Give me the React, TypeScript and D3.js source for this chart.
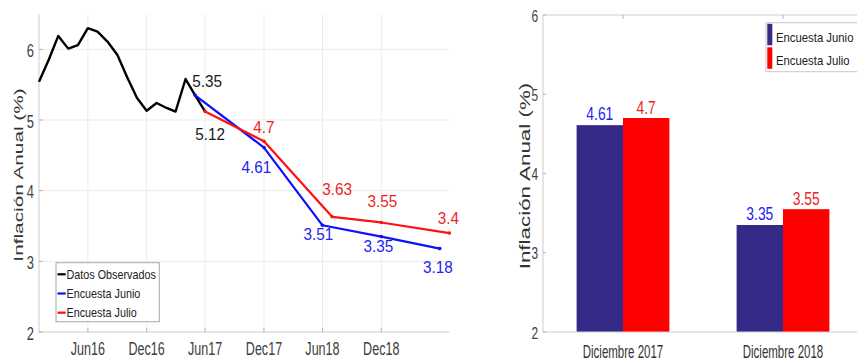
import React from 'react';
import * as d3 from 'd3';

// ---------- DATA ----------
const observedMonths = ['2016-01','2016-02','2016-03','2016-04','2016-05','2016-06','2016-07','2016-08','2016-09','2016-10','2016-11','2016-12','2017-01','2017-02','2017-03','2017-04','2017-05','2017-06'];
const observedValues = [5.54,5.86,6.19,6.01,6.06,6.30,6.25,6.11,5.92,5.61,5.31,5.13,5.24,5.17,5.12,5.58,5.35,5.12];
const juneMonths = ['2017-05','2017-12','2018-06','2018-12','2019-06'];
const juneValues = [5.35,4.61,3.51,3.35,3.18];
const julyMonths = ['2017-06','2017-12','2018-07','2018-12','2019-07'];
const julyValues = [5.12,4.7,3.63,3.55,3.4];
const xTickMonths = ['2016-06','2016-12','2017-06','2017-12','2018-06','2018-12'];
const xTickLabels = ['Jun16','Dec16','Jun17','Dec17','Jun18','Dec18'];
const yTicksLeft = [2,3,4,5,6];
const yTicksRight = [2,3,4,5,6];
const legendLeft = ['Datos Observados','Encuesta Junio','Encuesta Julio'];
const barCategories = ['Diciembre 2017','Diciembre 2018'];
const barJune = [4.61,3.35];
const barJuly = [4.7,3.55];
const legendRight = ['Encuesta Junio','Encuesta Julio'];
const yTitle = 'Inflación Anual (%)';

// ---------- STYLE (label offsets relative to points) ----------
const juneLabelOffsets: [number, number, string, string][] = [
  [-3, -8.6, 'start', '#1a1a1a'],
  [-7.5, 25.7, 'middle', '#2323ee'],
  [-4, 15, 'middle', '#2323ee'],
  [-3, 15, 'middle', '#2323ee'],
  [-2, 24, 'middle', '#2323ee'],
];
const julyLabelOffsets: [number, number, string, string][] = [
  [5, 28, 'middle', '#1a1a1a'],
  [0, -8.5, 'middle', '#ee1f1f'],
  [5, -21.6, 'middle', '#ee1f1f'],
  [1, -15, 'middle', '#ee1f1f'],
  [-1, -9, 'middle', '#ee1f1f'],
];

const FONT = "'Liberation Sans', Arial, Helvetica, sans-serif";
const parseMonth = d3.timeParse('%Y-%m');

function T({ x, y, sx = 1, size, anchor = 'middle', fill = '#404040', children }: any) {
  return (
    <text
      transform={`translate(${x},${y}) scale(${sx},1)`}
      fontSize={size}
      textAnchor={anchor}
      fill={fill}
      fontFamily={FONT}
    >
      {children}
    </text>
  );
}

export default function App() {
  // ---- left chart scales ----
  const xL = d3.scaleTime()
    .domain([new Date(2016, 0, 1), new Date(2019, 6, 1)])
    .range([39, 449.4]);
  const yL = d3.scaleLinear().domain([2, 6.5]).range([332, 14]);
  const line = d3.line<[Date, number]>().x(d => xL(d[0])).y(d => yL(d[1]));
  const obs = observedMonths.map((m, i) => [parseMonth(m)!, observedValues[i]] as [Date, number]);
  const jun = juneMonths.map((m, i) => [parseMonth(m)!, juneValues[i]] as [Date, number]);
  const jul = julyMonths.map((m, i) => [parseMonth(m)!, julyValues[i]] as [Date, number]);
  const xTicks = xTickMonths.map(m => parseMonth(m)!);

  // ---- right chart scales ----
  const xR = d3.scaleLinear().domain([0.5, 2.5]).range([543, 863]);
  const yR = d3.scaleLinear().domain([2, 6]).range([332, 15]);
  const bw = 0.29;

  const gridColor = '#ebebeb';
  const axisColor = '#cdcdcd';

  return (
    <svg width={857} height={364} style={{ position: 'absolute', left: 0, top: 0, background: '#fff' }}>
      <rect x={0} y={0} width={857} height={364} fill="#fff" />
      {/* ============ LEFT CHART ============ */}
      {/* grid */}
      {yTicksLeft.filter(t => t > 2).map(t => (
        <line key={'gy' + t} x1={xL.range()[0]} x2={xL.range()[1]} y1={yL(t)} y2={yL(t)} stroke={gridColor} strokeWidth={1} />
      ))}
      {xTicks.map((d, i) => (
        <line key={'gx' + i} x1={xL(d)} x2={xL(d)} y1={yL(6.5)} y2={yL(2)} stroke={gridColor} strokeWidth={1} />
      ))}
      {/* axes */}
      <line x1={xL.range()[0]} x2={xL.range()[0]} y1={yL(6.5)} y2={yL(2)} stroke={axisColor} />
      <line x1={xL.range()[0]} x2={xL.range()[1]} y1={yL(2)} y2={yL(2)} stroke={axisColor} />
      {xTicks.map((d, i) => (
        <line key={'tx' + i} x1={xL(d)} x2={xL(d)} y1={yL(2)} y2={yL(2) - 4} stroke="#b5b5b5" />
      ))}
      {yTicksLeft.map(t => (
        <line key={'ty' + t} x1={xL.range()[0]} x2={xL.range()[0] + 4} y1={yL(t)} y2={yL(t)} stroke="#b5b5b5" />
      ))}
      {/* tick labels */}
      {yTicksLeft.map(t => (
        <T key={'yl' + t} x={34} y={yL(t) + 7.5} sx={0.72} size={18} anchor="end">{t}</T>
      ))}
      {xTicks.map((d, i) => (
        <T key={'xl' + i} x={xL(d)} y={355} sx={0.68} size={18.5}>{xTickLabels[i]}</T>
      ))}
      {/* y title */}
      <text transform={`translate(23,175) scale(0.6,1) rotate(-90)`} fontSize={20.8} textAnchor="middle" fill="#333" fontFamily={FONT}>{yTitle}</text>

      {/* lines */}
      <path d={line(obs)!} fill="none" stroke="#000" strokeWidth={2.4} strokeLinejoin="round" />
      <path d={line(jun)!} fill="none" stroke="#1010ff" strokeWidth={2.2} strokeLinejoin="round" />
      <path d={line(jul)!} fill="none" stroke="#ff1010" strokeWidth={2.2} strokeLinejoin="round" />
      {jun.map((d, i) => <circle key={'jm' + i} cx={xL(d[0])} cy={yL(d[1])} r={1.8} fill="#1010ff" />)}
      {jul.map((d, i) => <circle key={'lm' + i} cx={xL(d[0])} cy={yL(d[1])} r={1.8} fill="#ff1010" />)}

      {/* data labels */}
      {jun.map((d, i) => {
        const o = juneLabelOffsets[i];
        return <T key={'jl' + i} x={xL(d[0]) + o[0]} y={yL(d[1]) + o[1]} sx={0.9} size={17} anchor={o[2]} fill={o[3]}>{String(juneValues[i])}</T>;
      })}
      {jul.map((d, i) => {
        const o = julyLabelOffsets[i];
        return <T key={'ll' + i} x={xL(d[0]) + o[0]} y={yL(d[1]) + o[1]} sx={0.9} size={17} anchor={o[2]} fill={o[3]}>{String(julyValues[i])}</T>;
      })}

      {/* legend */}
      <rect x={56} y={262.7} width={103.3} height={59} fill="#fff" stroke="#a8a8a8" strokeWidth={1} />
      {legendLeft.map((name, i) => {
        const cy = 274.3 + i * 19.2;
        const col = ['#000', '#1010ff', '#ff1010'][i];
        return (
          <g key={'lg' + i}>
            <line x1={57.5} x2={65.7} y1={cy} y2={cy} stroke={col} strokeWidth={2.2} />
            <T x={66.5} y={cy + 4.6} sx={0.9} size={12} anchor="start" fill="#222">{name}</T>
          </g>
        );
      })}

      {/* ============ RIGHT CHART ============ */}
      {/* bars */}
      {barCategories.map((c, i) => (
        <g key={'bar' + i}>
          <rect x={xR(i + 1 - bw)} y={yR(barJune[i])} width={xR(i + 1) - xR(i + 1 - bw)} height={yR(2) - yR(barJune[i])} fill="#352a87" />
          <rect x={xR(i + 1)} y={yR(barJuly[i])} width={xR(i + 1 + bw) - xR(i + 1)} height={yR(2) - yR(barJuly[i])} fill="#ff0000" />
          <T x={xR(i + 1 - bw / 2)} y={yR(barJune[i]) - 5} sx={0.73} size={19} fill="#2323ee">{String(barJune[i])}</T>
          <T x={xR(i + 1 + bw / 2)} y={yR(barJuly[i]) - 4} sx={0.73} size={19} fill="#ee1f1f">{String(barJuly[i])}</T>
          <T x={xR(i + 1)} y={358} sx={0.65} size={17.7} fill="#333">{c}</T>
        </g>
      ))}
      {/* axes box */}
      <line x1={xR(0.5)} x2={xR(0.5)} y1={yR(6)} y2={yR(2)} stroke={axisColor} />
      <line x1={xR(0.5)} x2={xR(2.5)} y1={yR(6)} y2={yR(6)} stroke={axisColor} />
      <line x1={xR(0.5)} x2={xR(2.5)} y1={yR(2)} y2={yR(2)} stroke={axisColor} />
      <line x1={xR(2.5)} x2={xR(2.5)} y1={yR(6)} y2={yR(2)} stroke={axisColor} />
      {barCategories.map((c, i) => (
        <line key={'rt' + i} x1={xR(i + 1)} x2={xR(i + 1)} y1={yR(6)} y2={yR(6) + 4} stroke="#b5b5b5" />
      ))}
      {yTicksRight.map(t => (
        <g key={'ry' + t}>
          <line x1={xR(0.5)} x2={xR(0.5) + 3} y1={yR(t)} y2={yR(t)} stroke="#b5b5b5" />
          <T x={538} y={yR(t) + 6.5} sx={0.7} size={17} anchor="end">{t}</T>
        </g>
      ))}
      <text transform={`translate(530,176) scale(0.68,1) rotate(-90)`} fontSize={22.4} textAnchor="middle" fill="#333" fontFamily={FONT}>{yTitle}</text>

      {/* legend */}
      <rect x={766} y={22.7} width={100} height={49} fill="#fff" stroke="#c8c8c8" strokeWidth={1} />
      {legendRight.map((name, i) => (
        <g key={'rl' + i}>
          <rect x={767.3} y={23.8 + i * 23.5} width={5} height={21.5} fill={i === 0 ? '#352a87' : '#ff0000'} />
          <T x={776} y={41.7 + i * 23.5} sx={0.9} size={12.6} anchor="start" fill="#222">{name}</T>
        </g>
      ))}
    </svg>
  );
}
